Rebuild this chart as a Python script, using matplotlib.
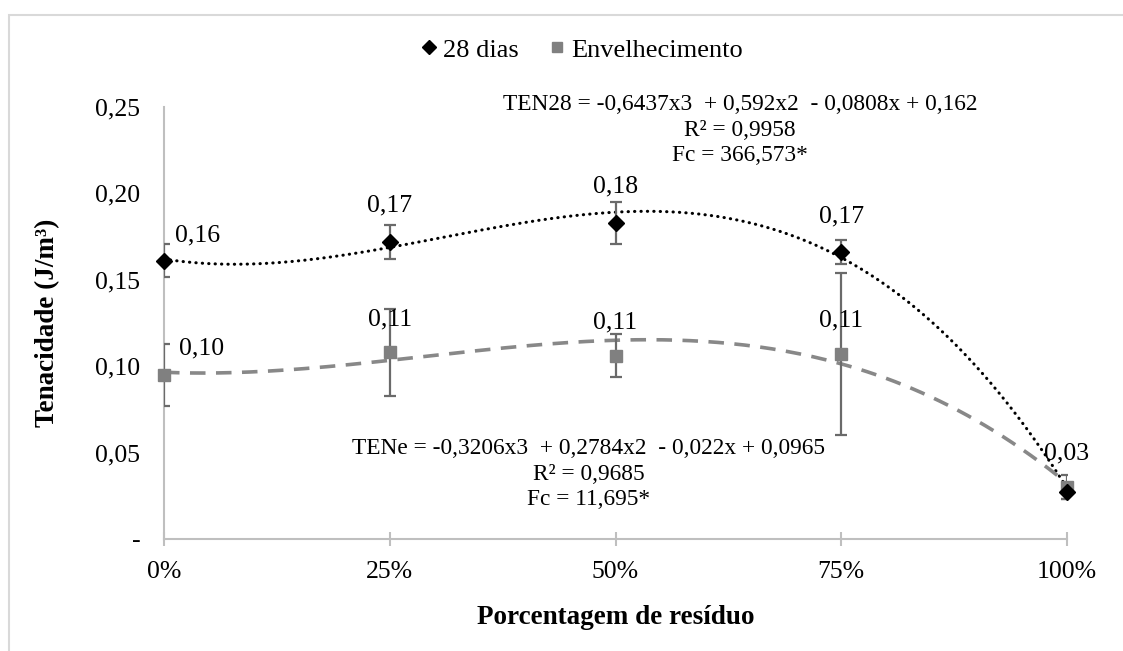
import numpy as np
import matplotlib
matplotlib.use('Agg')
import matplotlib.pyplot as plt
from matplotlib.patches import Rectangle

plt.rcParams['font.family'] = ['Liberation Serif', 'DejaVu Serif']

# data
x_vals = [0, 0.25, 0.5, 0.75, 1.0]
x_labels = ['0%', '25%', '50%', '75%', '100%']

ten28 = [0.161, 0.172, 0.183, 0.166, 0.027]
ten28_err = [0.0095, 0.010, 0.012, 0.0068, 0.004]
ten28_labels = ['0,16', '0,17', '0,18', '0,17', '']

tene = [0.095, 0.108, 0.106, 0.107, 0.030]
tene_err = [0.018, 0.025, 0.0125, 0.047, 0.007]
tene_labels = ['0,10', '0,11', '0,11', '0,11', '0,03']

# trendline coefficients as printed (x3, x2, x, const)
coef28 = [-0.6437, 0.592, -0.0808, 0.162]
coefe = [-0.3206, 0.2784, -0.022, 0.0965]

y_ticks = [0, 0.05, 0.10, 0.15, 0.20, 0.25]
y_ticklabels = ['-', '0,05', '0,10', '0,15', '0,20', '0,25']

W, H = 1123, 651
fig = plt.figure(figsize=(W / 100, H / 100), dpi=100)
ax = fig.add_axes([164 / W, 1 - 539 / H, (1067 - 164) / W, (539 - 107) / H])

# chart area border (only top and left visible)
fig.patches.append(Rectangle((9 / W, -0.2), 1.2, 1.2 - 15 / H, transform=fig.transFigure,
                             fill=False, edgecolor='#d9d9d9', lw=1.5))

xs = np.linspace(0, 1, 200)
ax.plot(xs, np.polyval(coef28, xs), color='black', lw=2.2,
        linestyle=(0, (0.1, 2.0)), dash_capstyle='round', zorder=2)
ax.plot(xs, np.polyval(coefe, xs), color='#888888', lw=2.6,
        linestyle=(0, (4.3, 2.9)), zorder=2)

ax.errorbar(x_vals, ten28, yerr=ten28_err, fmt='none', ecolor='#6a6a6a',
            elinewidth=1.6, capsize=4.5, capthick=1.6, zorder=3)
ax.errorbar(x_vals, tene, yerr=tene_err, fmt='none', ecolor='#6a6a6a',
            elinewidth=1.6, capsize=4.5, capthick=1.6, zorder=3)

ax.plot(x_vals, tene, 's', color='#808080', ms=8.5, clip_on=False, zorder=4,
        label='Envelhecimento')
ax.plot(x_vals, ten28, 'D', color='black', ms=8.5, clip_on=False, zorder=5,
        label='28 dias')

lab_fs = 18.5
for i, (x, y, t) in enumerate(zip(x_vals, ten28, ten28_labels)):
    if i == 0:
        ax.annotate(t, (x, y), xytext=(8, 18), textcoords='offset points',
                    ha='left', va='center', fontsize=lab_fs)
    else:
        ax.annotate(t, (x, y), xytext=(0, 26), textcoords='offset points',
                    ha='center', va='center', fontsize=lab_fs)
for i, (x, y, t) in enumerate(zip(x_vals, tene, tene_labels)):
    if i == 0:
        ax.annotate(t, (x, y), xytext=(11, 19), textcoords='offset points',
                    ha='left', va='center', fontsize=lab_fs)
    else:
        ax.annotate(t, (x, y), xytext=(0, 24), textcoords='offset points',
                    ha='center', va='center', fontsize=lab_fs)

ax.set_xlim(0, 1)
ax.set_ylim(0, 0.25)
ax.set_xticks(x_vals)
ax.set_xticklabels(x_labels, fontsize=18.5)
ax.set_yticks(y_ticks)
ax.set_yticklabels(y_ticklabels, fontsize=18.5)
ax.tick_params(axis='x', direction='inout', length=10, width=1.5,
               color='#bfbfbf', pad=11)
ax.tick_params(axis='y', length=0, pad=17)

for s in ['top', 'right']:
    ax.spines[s].set_visible(False)
for s in ['left', 'bottom']:
    ax.spines[s].set_color('#bfbfbf')
    ax.spines[s].set_linewidth(1.5)

ax.set_ylabel('Tenacidade (J/m³)', fontsize=19.5, fontweight='bold')
ax.yaxis.set_label_coords(-0.115, 0.5)
ax.set_xlabel('Porcentagem de resíduo', fontsize=19.5, fontweight='bold')
ax.xaxis.set_label_coords(0.5, -0.153)

# trendline equations
ax.text((740 - 164) / 903, (539 - 130) / 432,
        'TEN28 = -0,6437x3  + 0,592x2  - 0,0808x + 0,162\nR² = 0,9958\nFc = 366,573*',
        transform=ax.transAxes, ha='center', va='center', fontsize=16.8,
        linespacing=1.3, clip_on=False)
ax.text((589 - 164) / 903, (539 - 474) / 432,
        'TENe = -0,3206x3  + 0,2784x2  - 0,022x + 0,0965\nR² = 0,9685\nFc = 11,695*',
        transform=ax.transAxes, ha='center', va='center', fontsize=16.8,
        linespacing=1.3)

handles, labels = ax.get_legend_handles_labels()
fig.legend(handles[::-1], labels[::-1], loc='center', ncol=2,
           bbox_to_anchor=(580 / W, 1 - 50 / H), frameon=False, fontsize=19,
           handletextpad=0.1, columnspacing=1.0, handlelength=0.9,
           markerscale=0.8)

fig.savefig('out.png', dpi=100)
